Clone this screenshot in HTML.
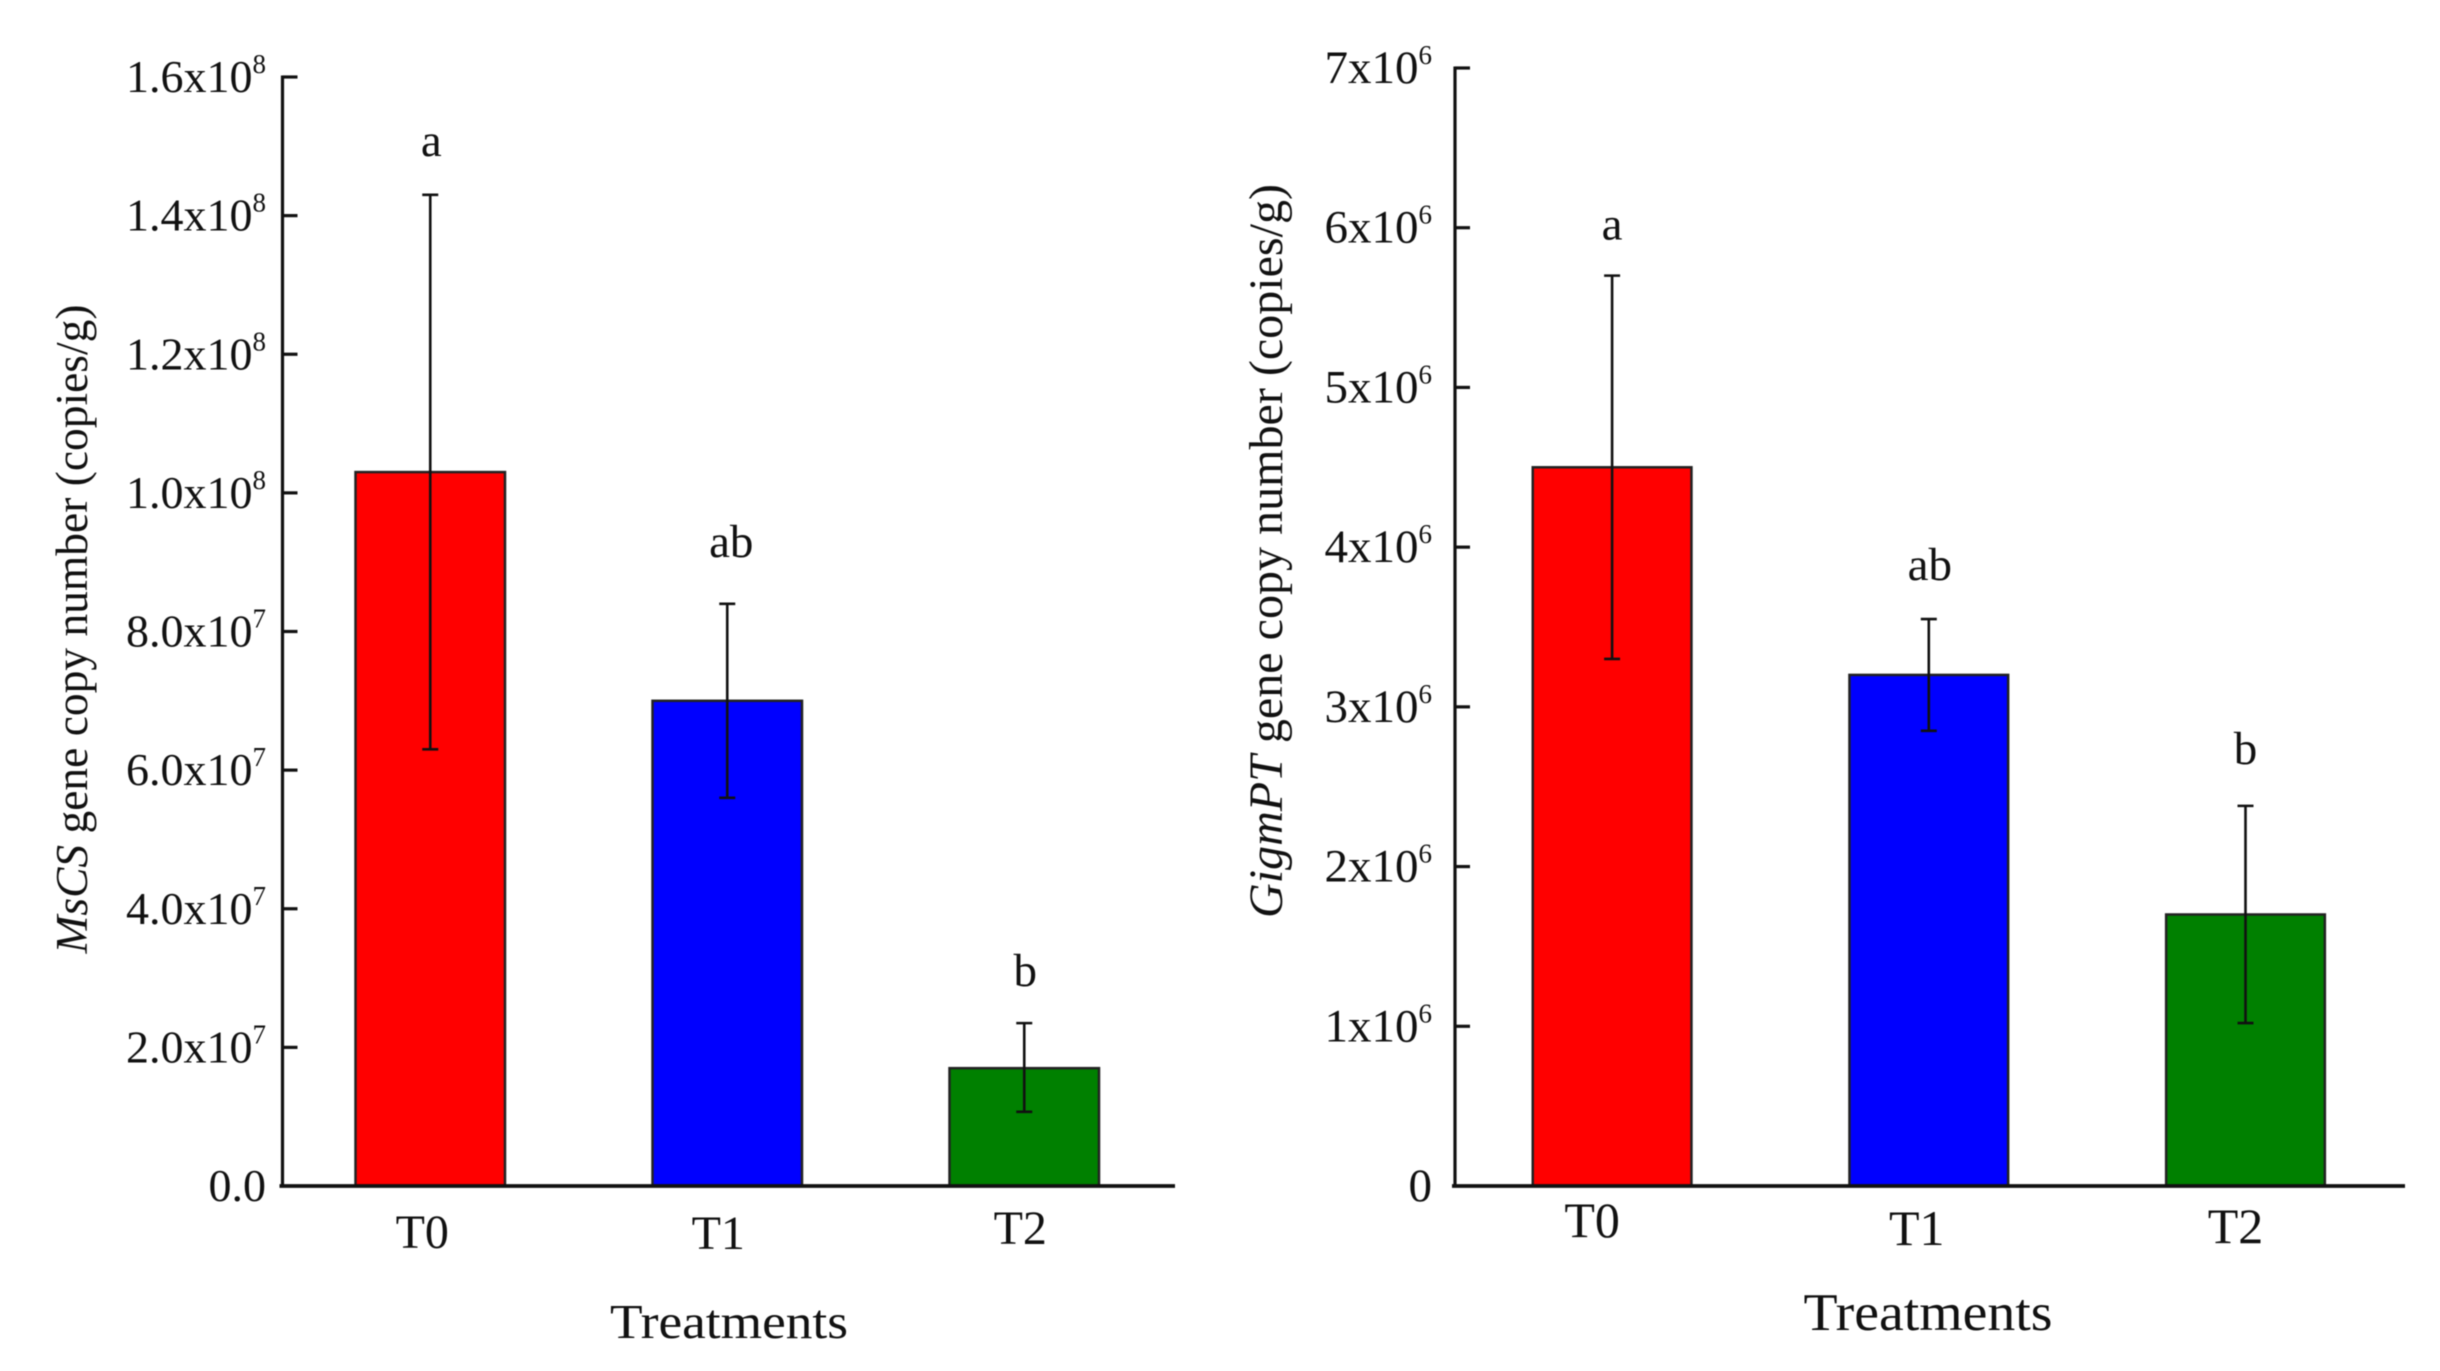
<!DOCTYPE html>
<html lang="en">
<head>
<meta charset="utf-8">
<title>Gene copy number by treatment</title>
<style>
html,body{margin:0;padding:0;background:#fff;}
svg{display:block;filter:blur(0.5px);}
text{font-family:"Liberation Serif","Times New Roman",serif;fill:#111;}
</style>
</head>
<body>
<svg id="figure" width="2440" height="1371" viewBox="0 0 2440 1371" xmlns="http://www.w3.org/2000/svg">
  <rect width="2440" height="1371" fill="#ffffff"/>
  <g id="panel-left"></g>
  <g id="panel-right"></g>
  <text transform="translate(87,629) rotate(-90)" text-anchor="middle" font-size="45" textLength="649" lengthAdjust="spacingAndGlyphs"><tspan font-style="italic">MsCS</tspan> gene copy number (copies/g)</text>
  <text transform="translate(1282,551) rotate(-90)" text-anchor="middle" font-size="48" textLength="734" lengthAdjust="spacingAndGlyphs"><tspan font-style="italic">GigmPT</tspan> gene copy number (copies/g)</text>
  <text x="729" y="1338" text-anchor="middle" font-size="49" textLength="238" lengthAdjust="spacingAndGlyphs">Treatments</text>
  <text x="1928" y="1330" text-anchor="middle" font-size="53" textLength="249" lengthAdjust="spacingAndGlyphs">Treatments</text>
</svg>
<script>
const categories = ['T0', 'T1', 'T2'];
const barColors = ['#ff0000', '#0000ff', '#008000'];

const leftValues = [1.03e8, 7.0e7, 1.7e7];
const leftErrorUpper = [1.43e8, 8.4e7, 2.35e7];
const leftErrorLower = [6.3e7, 5.6e7, 1.07e7];
const leftLetters = ['a', 'ab', 'b'];
const leftTickValues = [0, 2e7, 4e7, 6e7, 8e7, 1e8, 1.2e8, 1.4e8, 1.6e8];
const leftTickLabels = ['0.0', '2.0x10', '4.0x10', '6.0x10', '8.0x10', '1.0x10', '1.2x10', '1.4x10', '1.6x10'];
const leftTickExponents = ['', '7', '7', '7', '7', '8', '8', '8', '8'];

const rightValues = [4.5e6, 3.2e6, 1.7e6];
const rightErrorUpper = [5.7e6, 3.55e6, 2.38e6];
const rightErrorLower = [3.3e6, 2.85e6, 1.02e6];
const rightLetters = ['a', 'ab', 'b'];
const rightTickValues = [0, 1e6, 2e6, 3e6, 4e6, 5e6, 6e6, 7e6];
const rightTickLabels = ['0', '1x10', '2x10', '3x10', '4x10', '5x10', '6x10', '7x10'];
const rightTickExponents = ['', '6', '6', '6', '6', '6', '6', '6'];

const SVG_NS = 'http://www.w3.org/2000/svg';

function make(tag, parent, attrs) {
  const el = document.createElementNS(SVG_NS, tag);
  for (const k in attrs) el.setAttribute(k, attrs[k]);
  parent.appendChild(el);
  return el;
}

function drawPanel(p) {
  const root = document.getElementById(p.id);
  const yScale = function (v) { return p.baseY - (v / p.yMax) * (p.baseY - p.topY); };
  const xScale = function (i) { return p.firstCenter + p.step * i; };

  p.values.forEach(function (v, i) {
    const bar = make('rect', root, {
      x: xScale(i) - p.barWidth / 2,
      y: yScale(v),
      width: p.barWidth,
      height: p.baseY - yScale(v),
      fill: barColors[i],
      stroke: '#222',
      'stroke-width': 2.5
    });
    
    
  });

  p.values.forEach(function (v, i) {
    const cx = xScale(i);
    const yTop = yScale(p.upper[i]);
    const yBot = yScale(p.lower[i]);
    const err = make('path', root, {
      d: 'M' + (cx - 8) + ' ' + yTop + 'H' + (cx + 8) +
         'M' + cx + ' ' + yTop + 'V' + yBot +
         'M' + (cx - 8) + ' ' + yBot + 'H' + (cx + 8),
      fill: 'none',
      stroke: '#111',
      'stroke-width': 2.6
    });
    
    

    const letter = make('text', root, {
      x: cx + p.letterDx[i],
      y: yTop - p.letterGap[i],
      'text-anchor': 'middle',
      'font-size': p.letterSize
    });
    letter.textContent = p.letters[i];
    
    

    const cat = make('text', root, {
      x: cx + p.catDx[i],
      y: p.baseY + p.catDy[i],
      'text-anchor': 'middle',
      'font-size': p.catSize
    });
    cat.textContent = categories[i];
    
    
  });

  const yAxis = make('line', root, {
    x1: p.axisX, x2: p.axisX, y1: p.topY - 1.5, y2: p.baseY,
    stroke: '#111', 'stroke-width': 3.2
  });
  
  

  const xAxis = make('line', root, {
    x1: p.axisX - 3, x2: p.axisEnd, y1: p.baseY, y2: p.baseY,
    stroke: '#111', 'stroke-width': 3.8
  });
  
  

  p.ticks.forEach(function (t, i) {
    const y = yScale(t);
    if (t !== 0) {
      const tick = make('line', root, {
        x1: p.axisX, x2: p.axisX + 15, y1: y, y2: y,
        stroke: '#111', 'stroke-width': 3.2
      });
      
      
    }
    const label = make('text', root, {
      x: p.labelRight,
      y: y + p.labelDy,
      'text-anchor': 'end',
      'font-size': p.labelSize
    });
    
    
    const mant = make('tspan', label, {});
    mant.textContent = p.tickLabels[i];
    if (p.tickExps[i]) {
      const sup = make('tspan', label, { dy: -19, 'font-size': 27 });
      sup.textContent = p.tickExps[i];
    }
  });
}

drawPanel({
  id: 'panel-left',
  values: leftValues, upper: leftErrorUpper, lower: leftErrorLower, letters: leftLetters,
  ticks: leftTickValues, tickLabels: leftTickLabels, tickExps: leftTickExponents,
  yMax: 1.6e8, baseY: 1186, topY: 77, axisX: 282.5, axisEnd: 1175,
  firstCenter: 430.25, step: 297, barWidth: 149.5,
  labelRight: 266, labelDy: 15, labelSize: 46,
  letterSize: 47, letterDx: [1, 4, 1], letterGap: [39, 47, 37],
  catSize: 48, catDx: [-8, -9, -4], catDy: [62, 63, 58]
});

drawPanel({
  id: 'panel-right',
  values: rightValues, upper: rightErrorUpper, lower: rightErrorLower, letters: rightLetters,
  ticks: rightTickValues, tickLabels: rightTickLabels, tickExps: rightTickExponents,
  yMax: 7e6, baseY: 1186, topY: 68, axisX: 1455, axisEnd: 2405,
  firstCenter: 1612.1, step: 316.7, barWidth: 158.7,
  labelRight: 1432, labelDy: 15, labelSize: 47,
  letterSize: 47, letterDx: [0, 1, 0], letterGap: [36, 39, 42],
  catSize: 50, catDx: [-20, -12, -10], catDy: [51, 59, 57]
});
</script>
</body>
</html>
